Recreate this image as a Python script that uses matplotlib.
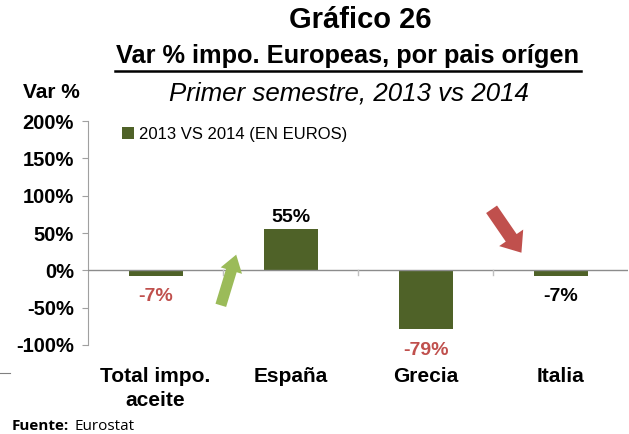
import matplotlib.pyplot as plt
import matplotlib.patches as mpatches

# datos del grafico
categorias = ["Total impo.\naceite", "España", "Grecia", "Italia"]
variacion = [-7, 55, -79, -7]
etiquetas = ["-7%", "55%", "-79%", "-7%"]
color_etiquetas = ["#C0504D", "black", "#C0504D", "black"]
ticks_y = [-100, -50, 0, 50, 100, 150, 200]

plt.rcParams['font.family'] = ['Liberation Sans', 'DejaVu Sans']

fig = plt.figure(figsize=(6.29, 4.34), dpi=100)
ax = fig.add_axes([88 / 629, 1 - 345 / 434, 540 / 629, 224 / 434])

x = list(range(len(categorias)))
ax.bar(x, variacion, width=0.4, color="#4F6228", zorder=3,
       label="2013 VS 2014 (EN EUROS)")

for xi, v, t, c in zip(x, variacion, etiquetas, color_etiquetas):
    if v >= 0:
        ax.text(xi, v + 4, t, ha="center", va="bottom", fontsize=14,
                fontweight="bold", color=c)
    else:
        ax.text(xi, v - 17, t, ha="center", va="top", fontsize=14,
                fontweight="bold", color=c)

ax.set_xlim(-0.5, len(categorias) - 0.5)
ax.set_ylim(-100, 200)
ax.set_yticks(ticks_y)
ax.set_yticklabels([f"{t}%" for t in ticks_y], fontsize=14.5, fontweight="bold")
ax.tick_params(axis="y", length=4, color="#A0A0A0", pad=6)

ax.set_xticks([])
ax.axhline(0, color="#8C8C8C", lw=1, zorder=4)
for b in [0.5, 1.5, 2.5]:
    ax.plot([b, b], [0, -6], color="#C0C0C0", lw=1, zorder=4)
for xi, cat in zip(x, categorias):
    ax.text(xi, -130, cat, ha="center", va="top", fontsize=15,
            fontweight="bold", linespacing=1.3)

for s in ["top", "right", "bottom"]:
    ax.spines[s].set_visible(False)
ax.spines["left"].set_color("#A0A0A0")

leg = ax.legend(loc="upper left", bbox_to_anchor=(0.035, 1.04), frameon=False,
                fontsize=12, handlelength=0.7, handleheight=0.7,
                handletextpad=0.3)

# titulos
fig.text(360 / 629, 1 - 20 / 434, "Gráfico 26", ha="center", va="center",
         fontsize=21, fontweight="bold")
fig.text(348 / 629, 1 - 56 / 434, "Var % impo. Europeas, por pais orígen",
         ha="center", va="center", fontsize=18.3, fontweight="bold")
fig.add_artist(plt.Line2D([115 / 629, 581 / 629], [1 - 71 / 434, 1 - 71 / 434],
                          color="black", lw=1.8))
fig.text(349 / 629, 1 - 93 / 434, "Primer semestre, 2013 vs 2014",
         ha="center", va="center", fontsize=18.6, style="italic")
fig.text(51 / 629, 1 - 93 / 434, "Var %", ha="center", va="center",
         fontsize=15, fontweight="bold")

# flechas
fig.add_artist(mpatches.FancyArrowPatch(
    (220 / 629, 1 - 308 / 434), (237 / 629, 1 - 252 / 434),
    transform=fig.transFigure, arrowstyle="simple,head_width=1.6,head_length=1.2,tail_width=0.8",
    mutation_scale=10, color="#9BBB59", lw=0))
fig.add_artist(mpatches.FancyArrowPatch(
    (490 / 629, 1 - 207 / 434), (523 / 629, 1 - 255 / 434),
    transform=fig.transFigure, arrowstyle="simple,head_width=2.1,head_length=1.3,tail_width=0.95",
    mutation_scale=10, color="#C0504D", lw=0))

# fuente
fig.text(12 / 629, 1 - 426 / 434, "Fuente:", ha="left", va="center",
         fontsize=11, fontweight="bold", family="Open Sans")
fig.text(74 / 629, 1 - 426 / 434, "Eurostat", ha="left", va="center",
         fontsize=11, family="Open Sans")
fig.add_artist(plt.Line2D([0, 10 / 629], [1 - 373 / 434, 1 - 373 / 434],
                          color="#808080", lw=0.8))

fig.savefig("out.png", dpi=100)
